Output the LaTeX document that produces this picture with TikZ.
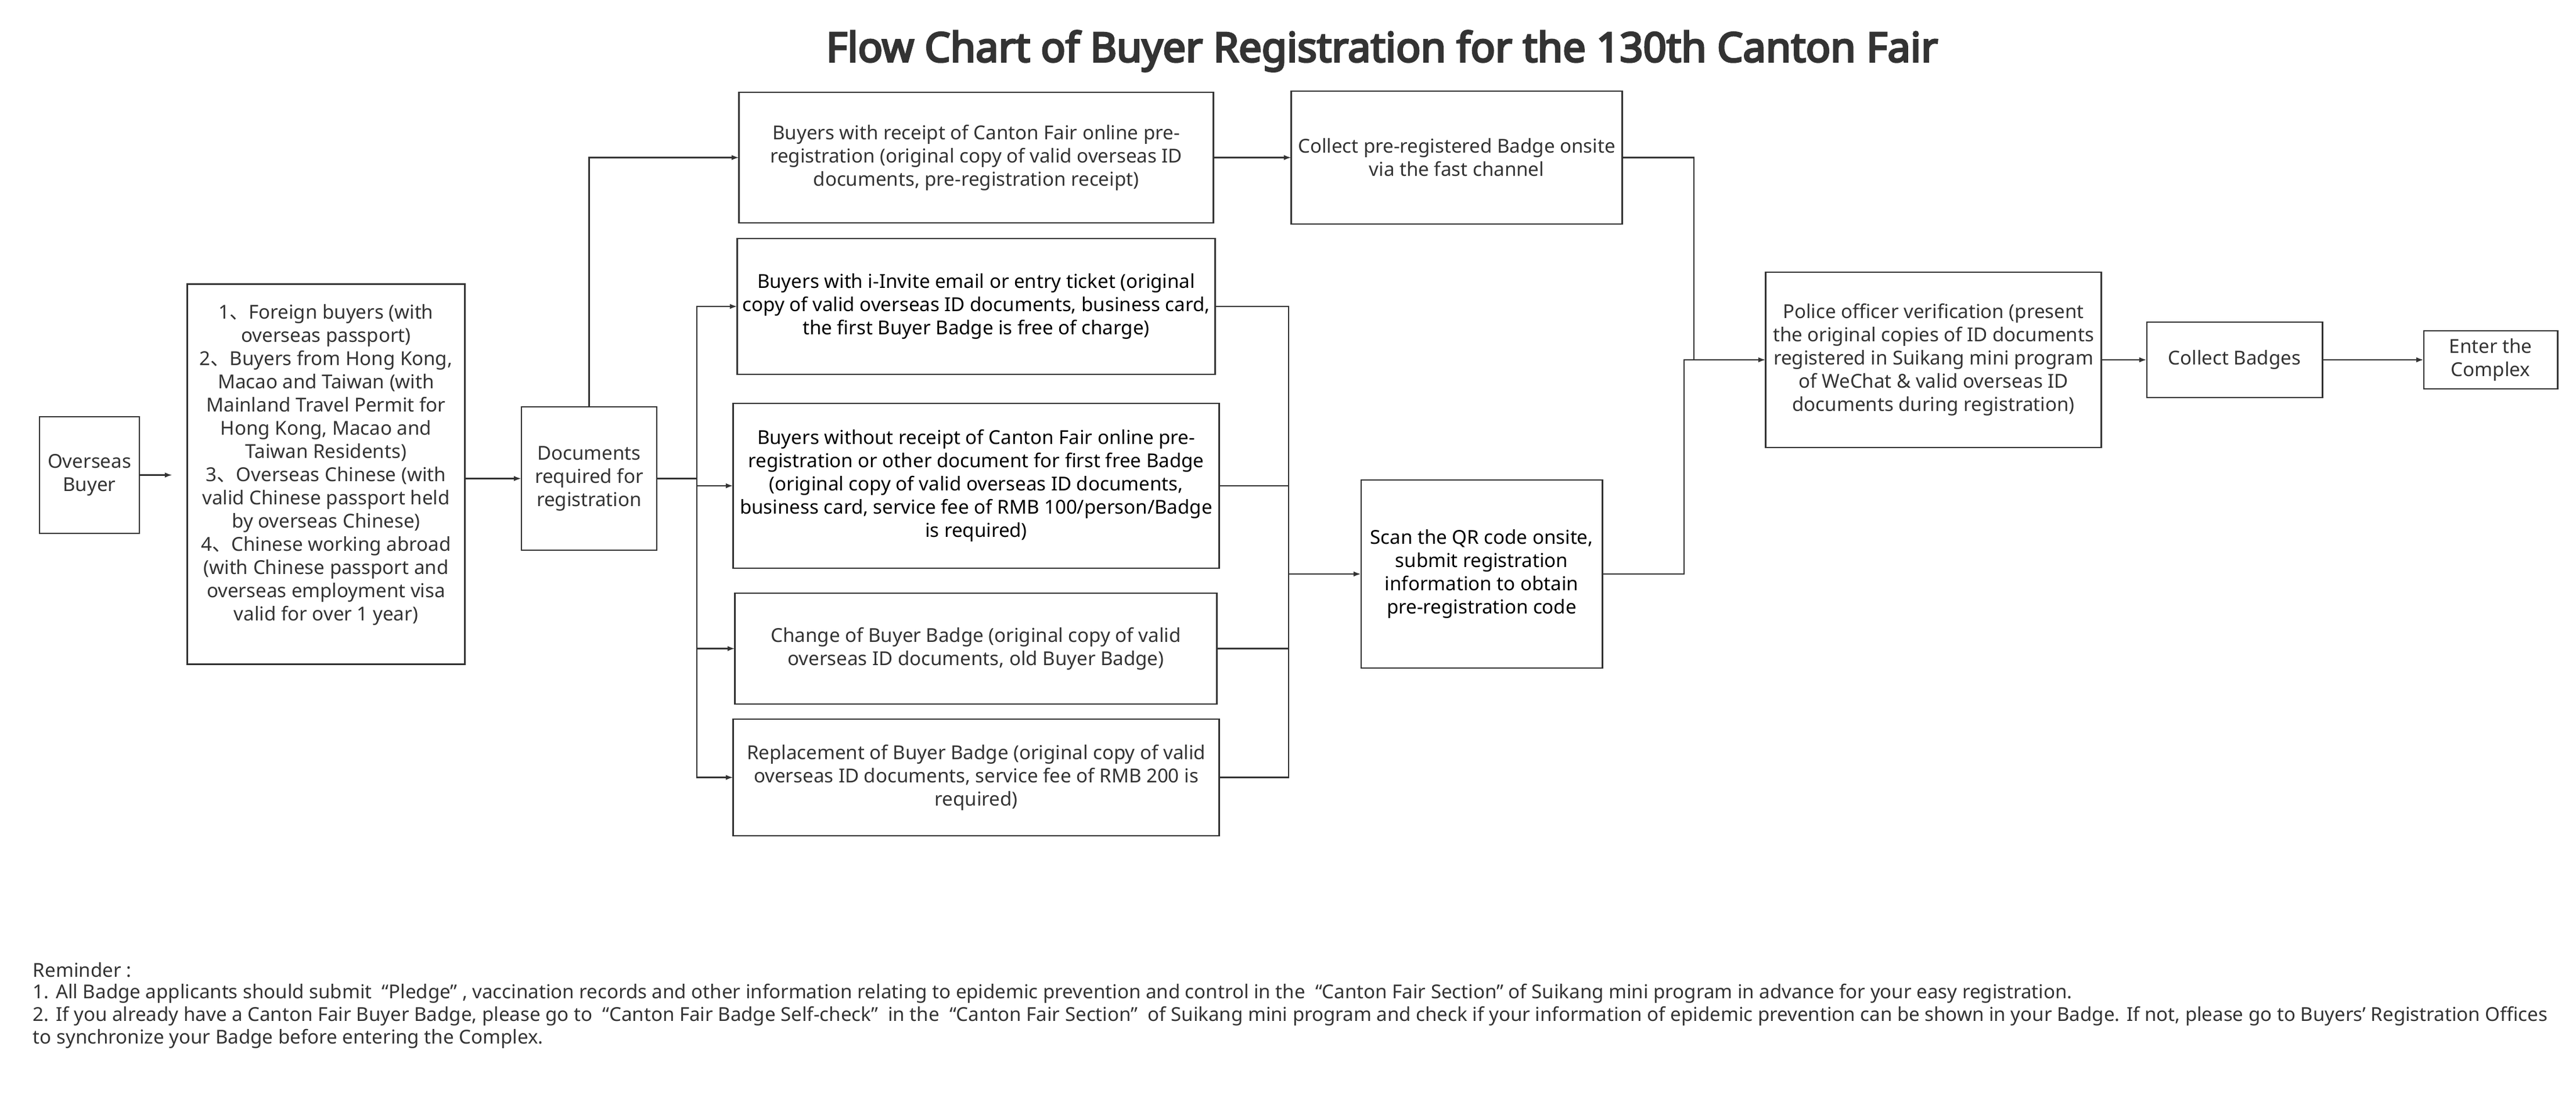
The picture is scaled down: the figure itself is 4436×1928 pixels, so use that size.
\documentclass[tikz,border=0pt]{standalone}
\usepackage{fontspec}
\setmainfont{Noto Sans}
\newfontfamily\titlef{Noto Sans}[AutoFakeBold=4.5]
\newfontfamily\cjkf{Noto Sans CJK SC}
\usetikzlibrary{arrows.meta}
\definecolor{ln}{HTML}{333333}
\definecolor{tx}{HTML}{333333}
\begin{document}
\begin{tikzpicture}[x=0.01cm,y=-0.01cm,
  every node/.style={inner sep=0pt, outer sep=0pt},
  bodyfont/.style={font=\fontsize{9.4pt}{11.38pt}\selectfont},
  box/.style={draw=ln, line width=0.28mm, align=center, text=tx, bodyfont},
  dark/.style={text=black},
  conn/.style={draw=ln, line width=0.25mm},
  arr/.style={conn, -{Latex[length=1.3mm,width=0.9mm]}},
  rem/.style={anchor=west, text=tx, bodyfont},
]
\useasboundingbox[fill=white] (0,0) rectangle (4436,1928);

\node[text=tx, font=\titlef\fontsize{20pt}{24pt}\selectfont\bfseries] (title) at (2380,88) {Flow Chart of Buyer Registration for the 130th Canton Fair};

\node[box, minimum width=17.2mm, minimum height=20.1mm] (ob) at (154,818.5) {Overseas\\Buyer};
\node[box, minimum width=47.7mm, minimum height=65.4mm] (list) at (561.5,817) {1{\cjkf 、}Foreign buyers (with\\overseas passport)\\2{\cjkf 、}Buyers from Hong Kong,\\Macao and Taiwan (with\\Mainland Travel Permit for\\Hong Kong, Macao and\\Taiwan Residents)\\3{\cjkf 、}Overseas Chinese (with\\valid Chinese passport held\\by overseas Chinese)\\4{\cjkf 、}Chinese working abroad\\(with Chinese passport and\\overseas employment visa\\valid for over 1 year)\\ \mbox{}};
\node[box, minimum width=23.3mm, minimum height=24.7mm] (docs) at (1014.5,824.5) {Documents\\required for\\registration};

\node[box, minimum width=81.6mm, minimum height=22.5mm] (prereg) at (1681,271.5) {Buyers with receipt of Canton Fair online pre-\\registration (original copy of valid overseas ID\\documents, pre-registration receipt)};
\node[box, dark, minimum width=82.2mm, minimum height=23.4mm] (invite) at (1681,528) {Buyers with i-Invite email or entry ticket (original\\copy of valid overseas ID documents, business card,\\the first Buyer Badge is free of charge)};
\node[box, dark, minimum width=83.6mm, minimum height=28.4mm] (without) at (1681,837) {Buyers without receipt of Canton Fair online pre-\\registration or other document for first free Badge\\(original copy of valid overseas ID documents,\\business card, service fee of RMB 100/person/Badge\\is required)};
\node[box, minimum width=82.9mm, minimum height=19.1mm] (change) at (1680.5,1117.5) {Change of Buyer Badge (original copy of valid\\overseas ID documents, old Buyer Badge)};
\node[box, minimum width=83.6mm, minimum height=20.1mm] (repl) at (1681,1339.5) {Replacement of Buyer Badge (original copy of valid\\overseas ID documents, service fee of RMB 200 is\\required)};

\node[box, minimum width=56.9mm, minimum height=22.9mm] (cpre) at (2508.5,271.5) {Collect pre-registered Badge onsite\\via the fast channel};
\node[box, dark, minimum width=41.5mm, minimum height=32.4mm] (scan) at (2551.5,989) {Scan the QR code onsite,\\submit registration\\information to obtain\\pre-registration code};

\node[box, minimum width=57.7mm, minimum height=30.2mm] (police) at (3329.5,620) {Police officer verification (present\\the original copies of ID documents\\registered in Suikang mini program\\of WeChat \& valid overseas ID\\documents during registration)};
\node[box, minimum width=30.2mm, minimum height=13.0mm] (cb) at (3848,620) {Collect Badges};
\node[box, minimum width=23.0mm, minimum height=10.0mm] (enter) at (4289,620) {Enter the\\Complex};

% connectors
\draw[arr, shorten >=2.6mm] (ob.east) -- (ob.east -| list.west);
\draw[arr] (docs.west -| list.east) -- (docs.west);
\draw[arr] (docs.north) |- (prereg.west);
\coordinate (b1) at (1200,824.5);
\draw[conn] (docs.east) -- (b1);
\foreach \n in {invite,without,change,repl} \draw[arr] (b1) |- (\n.west);
\coordinate (b2) at (2219,989);
\foreach \n in {invite,without,change,repl} \draw[conn] (\n.east) -| (b2);
\draw[arr] (b2) -- (scan.west);
\draw[arr] (prereg.east) -- (cpre.west);
\coordinate (m1) at (2917,620);
\coordinate (m2) at (2900,620);
\draw[conn] (cpre.east) -| (m1);
\draw[arr] (scan.east) -| (m2) -- (police.west);
\draw[arr] (police.east) -- (cb.west);
\draw[arr] (cb.east) -- (enter.west);

% reminder
\node[rem] (r0) at (57,1671) {Reminder :};
\node[rem] (r1) at (57,1712) {1. All Badge applicants should submit \ “Pledge” , vaccination records and other information relating to epidemic prevention and control in the \ “Canton Fair Section” of Suikang mini program in advance for your easy registration.};
\node[rem] (r2) at (57,1751) {2. If you already have a Canton Fair Buyer Badge, please go to \ “Canton Fair Badge Self-check” \ in the \ “Canton Fair Section” \ of Suikang mini program and check if your information of epidemic prevention can be shown in your Badge. If not, please go to Buyers' Registration Offices};
\node[rem] (r3) at (57,1790) {to synchronize your Badge before entering the Complex.};
\end{tikzpicture}
\end{document}
